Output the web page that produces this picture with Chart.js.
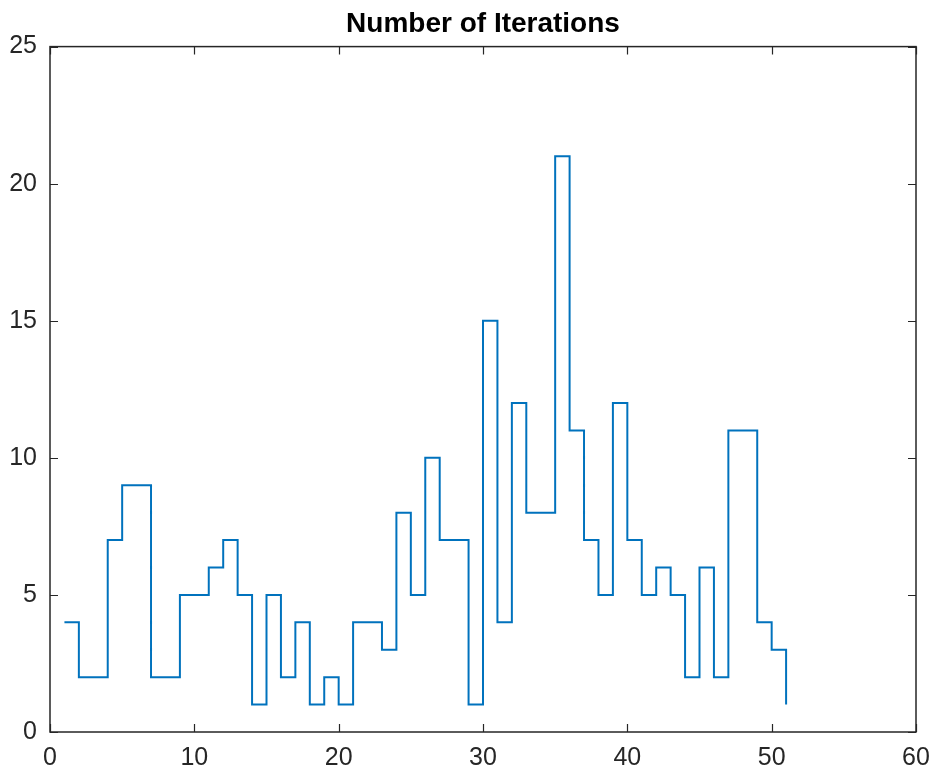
<!DOCTYPE html>
<html>
<head>
<meta charset="utf-8">
<script src="https://cdn.jsdelivr.net/npm/chart.js@4.4.1/dist/chart.umd.min.js"></script>
<style>
  body { margin: 0; background: #fff; }
  #wrap { width: 934px; height: 774px; }
</style>
</head>
<body>
<div id="wrap"><canvas id="iterChart" width="934" height="774"></canvas></div>
<script>
// iteration index and iterations needed (stairs plot)
const iterIndex = [1, 2, 3, 4, 5, 6, 7, 8, 9, 10, 11, 12, 13, 14, 15, 16, 17, 18, 19, 20,
  21, 22, 23, 24, 25, 26, 27, 28, 29, 30, 31, 32, 33, 34, 35, 36, 37, 38, 39, 40,
  41, 42, 43, 44, 45, 46, 47, 48, 49, 50, 51];
const iterCount = [4, 2, 2, 7, 9, 9, 2, 2, 5, 5, 6, 7, 5, 1, 5, 2, 4, 1, 2, 1,
  4, 4, 3, 8, 5, 10, 7, 7, 1, 15, 4, 12, 8, 8, 21, 11, 7, 5, 12, 7,
  5, 6, 5, 2, 6, 2, 11, 11, 4, 3, 1];
const xTicks = [0, 10, 20, 30, 40, 50, 60];
const yTicks = [0, 5, 10, 15, 20, 25];

const axisColor = '#262626';

// MATLAB-style box with inward tick marks on all four sides
const boxTicks = {
    id: 'boxTicks',
    afterDraw(chart) {
        const { ctx, chartArea: a, scales } = chart;
        const len = 8;
        ctx.save();
        ctx.strokeStyle = axisColor;
        ctx.lineWidth = 1.5;
        ctx.strokeRect(a.left, a.top, a.right - a.left, a.bottom - a.top);
        ctx.lineWidth = 1.2;
        ctx.beginPath();
        xTicks.forEach(v => {
            const px = Math.round(scales.x.getPixelForValue(v)) + 0.5;
            ctx.moveTo(px, a.bottom); ctx.lineTo(px, a.bottom - len);
            ctx.moveTo(px, a.top); ctx.lineTo(px, a.top + len);
        });
        yTicks.forEach(v => {
            const py = Math.round(scales.y.getPixelForValue(v)) + 0.5;
            ctx.moveTo(a.left, py); ctx.lineTo(a.left + len, py);
            ctx.moveTo(a.right, py); ctx.lineTo(a.right - len, py);
        });
        ctx.stroke();
        ctx.restore();
    }
};

const ctx = document.getElementById('iterChart').getContext('2d');
new Chart(ctx, {
    type: 'line',
    data: {
        datasets: [{
            data: iterIndex.map((x, i) => ({ x: x, y: iterCount[i] })),
            borderColor: '#0072BD',
            borderWidth: 2,
            pointRadius: 0,
            stepped: 'before',
            fill: false
        }]
    },
    options: {
        responsive: false,
        animation: false,
        layout: { padding: 0 },
        plugins: {
            legend: { display: false },
            tooltip: { enabled: false },
            title: {
                display: true,
                fullSize: false, // centre over the plot box, not the canvas
                text: 'Number of Iterations',
                color: '#000',
                font: { family: 'Liberation Sans, Arial, sans-serif', size: 28, weight: 'bold' },
                padding: { top: 7, bottom: 6 }
            }
        },
        scales: {
            x: {
                type: 'linear',
                min: 0, max: 60,
                afterBuildTicks: s => { s.ticks = xTicks.map(v => ({ value: v })); },
                afterFit: s => { s.height = 42; s.paddingLeft = 0; s.paddingRight = 0; },
                grid: { display: false, drawTicks: false },
                border: { display: false },
                ticks: {
                    color: axisColor,
                    padding: 11,
                    maxRotation: 0,
                    font: { family: 'Liberation Sans, Arial, sans-serif', size: 25 }
                }
            },
            y: {
                min: 0, max: 25,
                afterBuildTicks: s => { s.ticks = yTicks.map(v => ({ value: v })); },
                afterFit: s => { s.width = 50; },
                grid: { display: false, drawTicks: false },
                border: { display: false },
                ticks: {
                    color: axisColor,
                    padding: 13,
                    font: { family: 'Liberation Sans, Arial, sans-serif', size: 25 }
                }
            },
            yRight: {
                position: 'right',
                min: 0, max: 25,
                afterFit: s => { s.width = 18; },
                grid: { display: false, drawTicks: false },
                border: { display: false },
                ticks: { display: false }
            }
        }
    },
    plugins: [boxTicks]
});
</script>
</body>
</html>
